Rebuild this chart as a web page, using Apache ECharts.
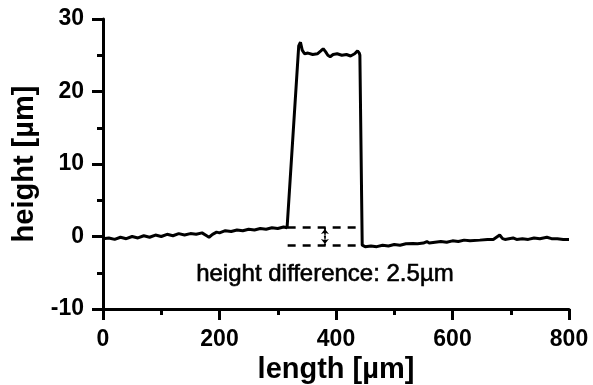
<!DOCTYPE html>
<html>
<head>
<meta charset="utf-8">
<script src="https://cdn.jsdelivr.net/npm/echarts@6/dist/echarts.min.js"></script>
<style>html,body{margin:0;padding:0;background:#fff}#c{width:593px;height:385px}</style>
</head>
<body>
<div id="c"></div>
<script>
// profile: length [µm] vs height [µm]
const lengthVals = [0,10,20,30,40,50,60,70,80,90,100,110,120,130,140,150,160,170,178,182,188,195,200,210,220,230,240,250,260,270,280,290,300,310,316,
  336,339,342,346,352,360,368,374,378,382,386,390,395,402,410,418,425,432,437,440,441,
  445,450,460,470,480,490,500,510,520,532,540,550,556,560,570,580,590,600,610,620,630,647,660,670,681,686,690,704,710,720,730,740,750,762,770,780,790,800];
const heightVals = [-0.3,-0.2,-0.4,-0.1,-0.3,0.0,-0.2,0.1,-0.1,0.2,0.0,0.3,0.1,0.4,0.2,0.4,0.3,0.5,0.1,-0.1,0.3,0.6,0.5,0.8,0.7,0.9,0.8,1.0,0.9,1.1,1.0,1.2,1.1,1.3,1.2,
  26.3,26.8,25.7,25.2,25.3,25.1,25.2,25.6,25.9,25.5,25.0,24.8,25.1,25.2,25.0,25.1,24.9,25.2,25.6,25.3,25.0,
  -1.2,-1.4,-1.3,-1.4,-1.2,-1.3,-1.1,-1.2,-1.0,-0.95,-1.0,-0.9,-0.7,-0.9,-0.8,-0.7,-0.8,-0.6,-0.7,-0.5,-0.6,-0.5,-0.4,-0.4,0.2,-0.3,-0.4,-0.2,-0.4,-0.3,-0.4,-0.2,-0.3,-0.1,-0.3,-0.3,-0.4,-0.4];

// reference levels for the step-height annotation
const levelRange = [317, 443];
const upperLevel = 1.25;
const lowerLevel = -1.25;
const arrowX = 381;
const noteX = 381;
const noteY = -5.2;
const noteText = 'height difference: 2.5µm';

const xTicks = {min: 0, max: 800, interval: 200};
const yTicks = {min: -10, max: 30, interval: 10};

const profile = lengthVals.map((x, i) => [x, heightVals[i]]);
const font = 'Liberation Sans, Arial, Helvetica, sans-serif';
function axisBase() {
  return {
    axisLine: {show: true, onZero: false, lineStyle: {color: '#000', width: 3}},
    axisTick: {show: true, inside: false, length: 11, lineStyle: {color: '#000', width: 3}},
    minorTick: {show: true, splitNumber: 2, length: 6, lineStyle: {color: '#000', width: 3}},
    splitLine: {show: false},
    axisLabel: {color: '#000', fontSize: 23, fontWeight: 'bold', fontFamily: font, margin: 19},
    nameTextStyle: {color: '#000', fontSize: 29, fontWeight: 'bold', fontFamily: font},
    nameLocation: 'middle'
  };
}

const chart = echarts.init(document.getElementById('c'), null, {renderer: 'canvas'});
chart.setOption({
  animation: false,
  backgroundColor: '#fff',
  grid: {left: 103, right: 24, top: 19, bottom: 76, containLabel: false, outerBoundsMode: 'none'},
  xAxis: Object.assign(axisBase(), xTicks, {type: 'value', name: 'length [µm]', nameGap: 41}),
  yAxis: Object.assign(axisBase(), yTicks, {type: 'value', name: 'height [µm]', nameGap: 64}),
  series: [
    {type: 'line', data: profile, showSymbol: false, symbol: 'none', lineStyle: {color: '#000', width: 3}, z: 5},
    {type: 'line', data: [[levelRange[0], upperLevel], [levelRange[1], upperLevel]], symbol: 'none', lineStyle: {color: '#000', width: 2.5, type: [8, 7]}},
    {type: 'line', data: [[levelRange[0], lowerLevel], [levelRange[1], lowerLevel]], symbol: 'none', lineStyle: {color: '#000', width: 2.5, type: [8, 7]}},
    {type: 'line', data: [[arrowX, upperLevel], [arrowX, lowerLevel]], symbol: 'none', lineStyle: {color: '#000', width: 2, type: [2, 2]},
      markLine: {silent: true, symbol: ['arrow', 'arrow'], symbolSize: [6, 5], label: {show: false}, lineStyle: {color: '#000', width: 1.5, type: [2, 2]},
        data: [[{coord: [arrowX, upperLevel - 0.2]}, {coord: [arrowX, lowerLevel + 0.2]}]]}},
    {type: 'scatter', data: [[noteX, noteY]], symbolSize: 0, silent: true, itemStyle: {color: '#000', opacity: 1},
      label: {show: true, position: 'inside', formatter: noteText, color: '#000', fontSize: 24, fontFamily: font,
        textBorderColor: '#000', textBorderWidth: 0.6}}
  ]
});
</script>
</body>
</html>
